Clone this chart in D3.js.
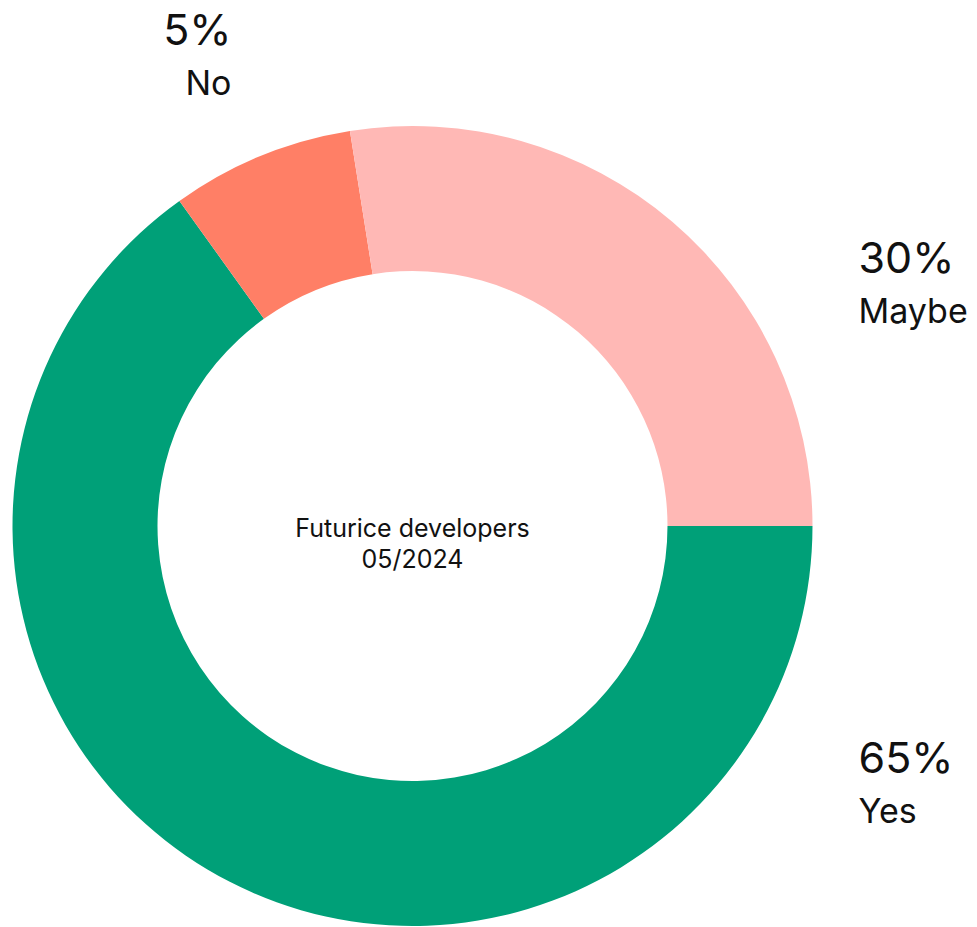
<!DOCTYPE html>
<html>
<head>
<meta charset="utf-8">
<script src="https://cdn.jsdelivr.net/npm/d3@7"></script>
<style>
  html, body { margin: 0; padding: 0; background: #fff; }
  svg { display: block; font-family: Inter, "Noto Sans", sans-serif; }
</style>
</head>
<body>
<div id="chart"></div>
<script>
// Survey answers (slice sizes, labels as printed)
const answers = ['Yes', 'No', 'Maybe'];
const shares = [65.1, 7.4, 27.5];
const shareLabels = ['65%', '5%', '30%'];
const colors = ['#00A078', '#FF7F66', '#FFB8B5'];
const centerLines = ['Futurice developers', '05/2024'];

const width = 977, height = 927;
const cx = 412.5, cy = 526;
const outerR = 400, innerR = 255;

const svg = d3.select('#chart')
  .append('svg')
  .attr('width', width)
  .attr('height', height);

const g = svg.append('g').attr('transform', `translate(${cx},${cy})`);

const data = answers.map((a, i) => ({ answer: a, value: shares[i], label: shareLabels[i], color: colors[i] }));

// Start at 3 o'clock, go clockwise
const pie = d3.pie()
  .value(d => d.value)
  .sort(null)
  .startAngle(Math.PI / 2)
  .endAngle(Math.PI / 2 + 2 * Math.PI);

const arc = d3.arc().innerRadius(innerR).outerRadius(outerR);

g.selectAll('path.slice')
  .data(pie(data))
  .join('path')
  .attr('class', 'slice')
  .attr('d', arc)
  .attr('fill', d => d.data.color);

// Outside labels: value on top, answer below
const labelPos = {
  Yes:   { x: outerR + 46, y: 247, anchor: 'start' },
  Maybe: { x: outerR + 46, y: -253, anchor: 'start' },
  No:    { x: -181, y: -481, anchor: 'end' }
};

data.forEach(d => {
  const p = labelPos[d.answer];
  g.append('text')
    .attr('x', p.x)
    .attr('y', p.y)
    .attr('text-anchor', p.anchor)
    .attr('font-size', '43px')
    .attr('fill', '#111')
    .text(d.label);
  g.append('text')
    .attr('x', p.x)
    .attr('y', p.y + 50)
    .attr('text-anchor', p.anchor)
    .attr('font-size', '34px')
    .attr('fill', '#111')
    .text(d.answer);
});

// Center caption
centerLines.forEach((t, i) => {
  g.append('text')
    .attr('x', 0)
    .attr('y', 11 + i * 31)
    .attr('text-anchor', 'middle')
    .attr('font-size', '25px')
    .attr('fill', '#111')
    .text(t);
});
</script>
</body>
</html>
